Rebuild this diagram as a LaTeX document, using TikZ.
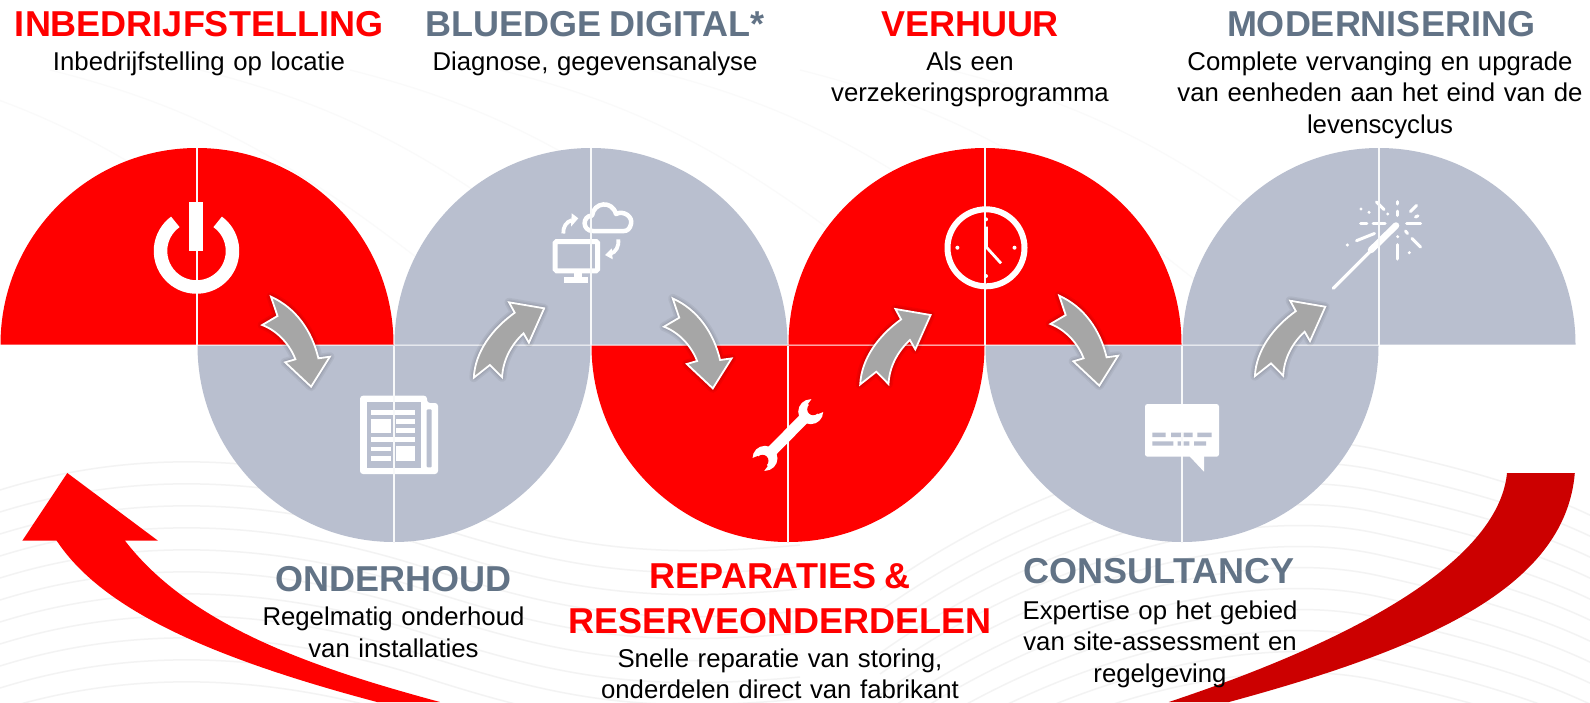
\documentclass[tikz,border=0pt]{standalone}
\usepackage{fontspec}
\setmainfont[WordSpace=1.2]{Liberation Sans}
\newfontfamily\titlefont[WordSpace=0.8]{Liberation Sans}
\definecolor{brandred}{HTML}{FF0000}
\definecolor{darkred}{HTML}{CC0000}
\definecolor{slate}{HTML}{B9BFCF}
\definecolor{titlegray}{HTML}{627386}
\definecolor{arrowgray}{HTML}{A6A6A6}
\definecolor{wave}{HTML}{F3F3F3}
\definecolor{wavefaint}{HTML}{FAFAFA}
\tikzset{
  x=1pt,y=-1pt,
  titletext/.style={font=\titlefont\fontsize{36}{38}\selectfont\bfseries,inner sep=0pt,anchor=center},
  subtext/.style={font=\fontsize{25.75}{31.5}\selectfont,inner sep=0pt,anchor=center,align=center,text=black},
  divider/.style={white!90!slate,line width=1.3pt},
  icon/.style={draw=white,line cap=butt},
  ray/.style={draw=white,line width=3pt,line cap=round},
  flow/.style={fill=arrowgray,draw=white,line width=1.8pt,line join=miter},
  glow/.style={draw=black,opacity=0.05,line join=round},
}
\newcommand{\halfup}[2]{\fill[#2] (#1-196.5,344.5) arc[start angle=180,end angle=360,radius=196.5] -- cycle;
  \draw[divider] (#1,148) -- (#1,344.5);}
\newcommand{\halfdown}[2]{\fill[#2] (#1-196.5,345.5) arc[start angle=180,end angle=0,radius=196.5] -- cycle;
  \draw[divider] (#1,345.5) -- (#1,542);}
\newcommand{\flowdownpath}{(271,296.7) -- (277.5,316) -- (262.2,325) .. controls (278,331) and (290,345) .. (295.4,359.3) -- (285.1,362.3) -- (311.1,386.7) -- (329.9,356.7) -- (318.4,358.3) .. controls (312,331) and (296,308) .. (271,296.7) -- cycle}
\newcommand{\flowuppath}{(544.2,308.3) -- (509,302.3) -- (514.7,312.7) .. controls (492,329) and (475,352) .. (473.8,377.7) -- (489.9,365) -- (502.1,377.3) .. controls (503,360) and (511,345) .. (523.5,333.3) -- (528.9,342.7) -- cycle}
\newcommand{\flowarrow}[3]{\begin{scope}[shift={(#1,#2)}]
  \foreach \w in {9,6,3.5}{\draw[glow,line width=\w pt] #3;}
  \filldraw[flow] #3;
\end{scope}}
\begin{document}
\begin{tikzpicture}
\useasboundingbox (0,0) rectangle (1590,702);
\fill[white] (0,0) rectangle (1590,702);
% background waves
\begin{scope}
\clip (0,0) rectangle (1590,702);
\foreach \i in {0,...,11}{
  \draw[wave,line width=1.5pt] (0,{490+22*\i}) .. controls (90,{462+22*\i}) and (230,{440+22*\i}) .. (420,{500+22*\i}) .. controls (560,{545+22*\i}) and (640,{560+22*\i}) .. (800,{545+22*\i});
  \draw[wave,line width=1.5pt] (880,{590+21*\i}) .. controls (1050,{470+21*\i}) and (1250,{420+21*\i}) .. (1380,{450+21*\i}) .. controls (1470,{470+21*\i}) and (1540,{490+21*\i}) .. (1600,{520+21*\i});
}
\foreach \i in {0,...,7}{
  \draw[wavefaint,line width=1.2pt] ({-100+150*\i},70) .. controls ({60+150*\i},110) and ({160+150*\i},170) .. ({320+150*\i},300);
}
\end{scope}
% half discs
\halfup{197}{brandred}
\halfup{591}{slate}
\halfup{985}{brandred}
\halfup{1379}{slate}
\halfdown{394}{slate}
\halfdown{788}{brandred}
\halfdown{1182}{slate}
% big return arrows
\fill[brandred] (67.3,473) -- (22.3,540.7) -- (56.7,540.7) .. controls (100,606) and (200,655) .. (377,702) -- (440,702) .. controls (310,667) and (190,625) .. (125,540.7) -- (158,540.7) -- cycle;
\fill[darkred] (1507,473) .. controls (1500,545) and (1400,625) .. (1168.8,702) -- (1229,702) .. controls (1420,650) and (1565,590) .. (1574.8,473) -- cycle;
% power icon
\draw[icon,line width=13.5pt] (196.5,251)++(306:36) arc[start angle=306,end angle=594,radius=36];
\fill[white] (189,201.7) rectangle (203,251);
% newspaper icon
\fill[white,rounded corners=3pt] (360,395.7) -- (427,395.7) -- (427,403) -- (438,403) -- (438,474) -- (360,474) -- cycle;
\fill[slate] (366.6,401.7) rectangle (421,468.3);
\fill[slate,rounded corners=1pt] (426.7,409.3) -- (431.7,409.3) -- (431.7,467.3) -- (426.7,467.3) -- cycle;
\fill[white] (371,410) rectangle (415,414.5);
\fill[white] (371,418.7) rectangle (391,432.7);
\fill[white] (396,418.7) rectangle (415,424);
\fill[white] (396,427.7) rectangle (415,432.7);
\fill[white] (371,437.3) rectangle (415,441.7);
\fill[white] (371,446.7) rectangle (391,451);
\fill[white] (371,456) rectangle (391,460.7);
\fill[white] (396,446) rectangle (415,460.7);
% monitor and cloud icon
\draw[icon,line width=5pt,rounded corners=1.5pt] (555.2,241.5) rectangle (597.5,270.8);
\fill[white] (574,273) rectangle (581.7,278);
\fill[white] (564.3,277.3) rectangle (588.3,283.3);
\draw[icon,line width=4.5pt,line join=round] (593,231) .. controls (582,231) and (582,216) .. (592,215.5) .. controls (594,202) and (612,200) .. (616,214) .. controls (624,210) and (633,217) .. (631,224) .. controls (630,229) and (627,231) .. (624,231) -- cycle;
\draw[icon,line width=3.8pt] (563.3,233.5) .. controls (563,227) and (566,222) .. (572,220);
\fill[white] (571.7,213.3) -- (578.3,218.3) -- (571,226.7) -- cycle;
\draw[icon,line width=3.8pt] (618.3,239.3) .. controls (619,247) and (616,252) .. (610,254);
\fill[white] (605,255) -- (611.7,248.3) -- (612.7,259.3) -- cycle;
% clock icon
\draw[icon,line width=6pt] (986,247.8) circle[radius=38.5];
\draw[icon,line width=2.8pt,line join=miter] (986.5,226.7) -- (986.5,247.3) -- (1001,263.3);
\fill[white] (986,219.3) circle[radius=2] (986,276) circle[radius=2] (957.4,247.7) circle[radius=2] (1014.5,247.7) circle[radius=2];
% wrench icon
\draw[icon,line width=11pt] (806,416.5) -- (770,453);
\fill[white] (810.7,411.7) circle[radius=12.5] (765,458.3) circle[radius=12.5];
\fill[brandred] (813.2,409.2) circle[radius=6];
\fill[brandred] (808,404) -- (814,396) -- (828,410) -- (818,414) -- cycle;
\fill[brandred] (762.5,460.8) circle[radius=6];
\fill[brandred] (767.7,466) -- (761.7,474) -- (747.7,460) -- (757.7,456) -- cycle;
% speech bubble icon
\fill[white,rounded corners=2.5pt] (1145,404) rectangle (1219,456.7);
\fill[white] (1189.3,456) -- (1204,471.7) -- (1204,456) -- cycle;
\fill[slate] (1152.3,432.7) rectangle (1165.7,437) (1171,432.7) rectangle (1183.3,437) (1184,432.7) rectangle (1192.7,437) (1197.3,432.7) rectangle (1211.7,437);
\fill[slate] (1152.3,441.3) rectangle (1173.3,445.7) (1177.7,441.3) rectangle (1183.3,445.7) (1184,441.3) rectangle (1189.3,445.7) (1194,441.3) rectangle (1206,445.7);
% sparkler icon
\draw[white,line width=3.2pt,line cap=round] (1333.3,288.3) -- (1370,251.7);
\draw[white,line width=6.5pt,line cap=round] (1371,250) -- (1396,225.5);
\draw[ray] (1360.5,223.7) -- (1366.8,223.7);
\draw[ray] (1373,223.7) -- (1385,223.7);
\draw[ray] (1406.5,223.7) -- (1420.5,223.7);
\draw[ray] (1397.7,201.5) -- (1397.7,204);
\draw[ray] (1397.7,211) -- (1397.7,215.5);
\draw[ray] (1376.5,202) -- (1384,209.5);
\draw[ray] (1410.5,211.5) -- (1416.5,205.5);
\draw[ray] (1415.5,217) -- (1418,215.8);
\draw[ray] (1405.5,231) -- (1407.5,233.5);
\draw[ray] (1412,238.5) -- (1420.5,247);
\draw[ray] (1397.7,244.5) -- (1397.7,259);
\draw[ray] (1356.5,240.7) -- (1374.5,233.5);
\fill[white] (1361,209) circle[radius=1.7] (1369,212.3) circle[radius=1.7] (1387.7,214) circle[radius=1.7] (1397.7,236.7) circle[radius=1.7] (1409.3,252.7) circle[radius=1.7] (1347.3,245) circle[radius=1.7];
% divider lines repeated over details
\draw[divider] (394,395) -- (394,475);
\draw[divider] (591,203) -- (591,284);
\draw[divider] (1182,432) -- (1182,446);
\draw[divider] (1379,200) -- (1379,260);
% flow arrows
\flowarrow{0}{0}{\flowdownpath}
\flowarrow{0}{0}{\flowuppath}
\flowarrow{401.7}{1.7}{\flowdownpath}
\flowarrow{386.4}{6.7}{\flowuppath}
\flowarrow{788.2}{-1}{\flowdownpath}
\flowarrow{781.1}{-1.6}{\flowuppath}
% texts
\node[titletext,text=brandred] (t1) at (199,24) {INBEDRIJFSTELLING};
\node[subtext] (s1) at (199,64) {Inbedrijfstelling op locatie};
\node[titletext,text=titlegray] (t2) at (595,24) {BLUEDGE DIGITAL*};
\node[subtext] (s2) at (595,64) {Diagnose, gegevensanalyse};
\node[titletext,text=brandred] (t3) at (970,24) {VERHUUR};
\node[subtext] (s3) at (970,79.5) {Als een\\verzekeringsprogramma};
\node[titletext,text=titlegray] (t4) at (1381,24) {MODERNISERING};
\node[subtext] (s4) at (1380,95) {Complete vervanging en upgrade\\van eenheden aan het eind van de\\levenscyclus};
\node[titletext,text=titlegray] (t5) at (393.5,579) {ONDERHOUD};
\node[subtext] (s5) at (393.5,632.5) {Regelmatig onderhoud\\van installaties};
\node[titletext,text=brandred,align=center,font=\titlefont\fontsize{36}{44.5}\selectfont\bfseries] (t6) at (780,598.5) {REPARATIES \&\\RESERVEONDERDELEN};
\node[subtext] (s6) at (780,674) {Snelle reparatie van storing,\\onderdelen direct van fabrikant};
\node[titletext,text=titlegray] (t7) at (1159,571) {CONSULTANCY};
\node[subtext] (s7) at (1160,644) {Expertise op het gebied\\van site-assessment en\\regelgeving};
\end{tikzpicture}
\end{document}
